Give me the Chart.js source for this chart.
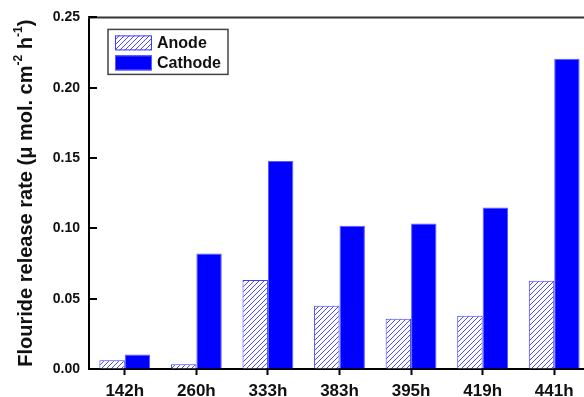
<!DOCTYPE html>
<html>
<head>
<meta charset="utf-8">
<script src="https://cdn.jsdelivr.net/npm/chart.js@4/dist/chart.umd.min.js"></script>
<style>
  html, body { margin: 0; padding: 0; background: #fff; overflow: hidden; width: 584px; height: 397px; }
  canvas { display: block; }
</style>
</head>
<body>
<canvas id="c" width="600" height="397"></canvas>
<script>
// Fluoride release rate per ageing time, anode vs cathode
const hours = ['142h', '260h', '333h', '383h', '395h', '419h', '441h'];
const anodeRate = [0.0063, 0.0033, 0.0632, 0.0449, 0.0357, 0.0378, 0.0627];
const cathodeRate = [0.0103, 0.0822, 0.1479, 0.1019, 0.1035, 0.1148, 0.2206];
const yTicks = [0, 0.05, 0.10, 0.15, 0.20, 0.25];
const seriesNames = ['Anode', 'Cathode'];

const FONT = '"Liberation Sans", Arial, Helvetica, sans-serif';
const BLUE = '#0000ff';

// diagonal "/" hatch used for the anode bars
function makeHatch() {
  const s = 5;
  const t = document.createElement('canvas');
  t.width = s; t.height = s;
  const g = t.getContext('2d');
  g.fillStyle = '#ffffff';
  g.fillRect(0, 0, s, s);
  g.strokeStyle = '#4848ff';
  g.lineWidth = 1;
  g.beginPath();
  g.moveTo(-1, s + 1); g.lineTo(s + 1, -1);
  g.moveTo(-1, 1); g.lineTo(1, -1);
  g.moveTo(s - 1, s + 1); g.lineTo(s + 1, s - 1);
  g.stroke();
  return g.createPattern(t, 'repeat');
}
const ctx0 = document.getElementById('c').getContext('2d');
const hatch = makeHatch();

// frame, inward y ticks, rotated axis title with superscripts, boxed legend
const decorations = {
  id: 'decorations',
  afterDraw(chart) {
    const { ctx, chartArea: a, scales } = chart;
    ctx.save();

    // top and right frame lines
    ctx.strokeStyle = '#333';
    ctx.lineWidth = 2;
    ctx.beginPath();
    ctx.moveTo(a.left - 1, a.top);
    ctx.lineTo(a.right, a.top);
    ctx.lineTo(a.right, a.bottom);
    ctx.stroke();

    // y ticks pointing into the plot
    ctx.strokeStyle = '#000';
    ctx.lineWidth = 2;
    ctx.beginPath();
    yTicks.forEach(v => {
      const y = Math.round(scales.y.getPixelForValue(v));
      ctx.moveTo(a.left, y);
      ctx.lineTo(a.left + 8, y);
    });
    ctx.stroke();

    // y axis title
    ctx.save();
    ctx.translate(26, (a.top + a.bottom) / 2);
    ctx.rotate(-Math.PI / 2);
    ctx.fillStyle = '#111';
    ctx.textBaseline = 'middle';
    const big = 'bold 20px ' + FONT, small = 'bold 12px ' + FONT;
    const parts = [
      ['Flouride release rate (\u03bc mol. cm', big, 0],
      ['-2', small, -7],
      [' h', big, 0],
      ['-1', small, -7],
      [')', big, 0]
    ];
    let total = 0;
    parts.forEach(p => { ctx.font = p[1]; total += ctx.measureText(p[0]).width; });
    let x = -total / 2;
    parts.forEach(p => {
      ctx.font = p[1];
      ctx.fillText(p[0], x, p[2]);
      x += ctx.measureText(p[0]).width;
    });
    ctx.restore();

    // legend box
    const lx = a.left + 19, ly = a.top + 12, lw = 120, lh = 45;
    ctx.fillStyle = '#fff';
    ctx.fillRect(lx, ly, lw, lh);
    ctx.strokeStyle = '#444';
    ctx.lineWidth = 1.5;
    ctx.strokeRect(lx, ly, lw, lh);
    const ds = chart.data.datasets;
    ds.forEach((d, i) => {
      const sy = ly + 6 + i * 20;
      ctx.fillStyle = d.backgroundColor;
      ctx.fillRect(lx + 7, sy, 37, 15);
      ctx.strokeStyle = d.borderColor;
      ctx.lineWidth = 1;
      ctx.strokeRect(lx + 7.5, sy + 0.5, 36, 14);
      ctx.fillStyle = '#111';
      ctx.font = 'bold 16px ' + FONT;
      ctx.textBaseline = 'middle';
      ctx.fillText(d.label, lx + 49, sy + 8);
    });

    ctx.restore();
  }
};

new Chart(ctx0, {
  type: 'bar',
  data: {
    labels: hours,
    datasets: [
      {
        label: seriesNames[0],
        data: anodeRate,
        backgroundColor: hatch,
        borderColor: '#3a3aff',
        borderWidth: 1
      },
      {
        label: seriesNames[1],
        data: cathodeRate,
        backgroundColor: BLUE,
        borderColor: '#5a5aff',
        borderWidth: 1
      }
    ]
  },
  options: {
    responsive: false,
    animation: false,
    layout: { padding: { left: 0, right: 10, top: 14, bottom: 0 } },
    datasets: { bar: { categoryPercentage: 0.71, barPercentage: 1.0 } },
    plugins: { legend: { display: false }, tooltip: { enabled: false } },
    scales: {
      x: {
        offset: true,
        grid: {
          offset: false,
          drawOnChartArea: false,
          drawTicks: true,
          tickLength: 6,
          tickWidth: 2,
          tickColor: '#000'
        },
        border: { display: true, color: '#000', width: 2 },
        ticks: {
          color: '#111',
          padding: 6,
          font: { family: FONT, size: 17, weight: 'bold' },
          maxRotation: 0
        },
        afterFit(s) { s.height = 28; }
      },
      y: {
        min: 0,
        max: 0.25,
        afterBuildTicks(s) { s.ticks = yTicks.map(v => ({ value: v })); },
        grid: { drawOnChartArea: false, drawTicks: false },
        border: { display: true, color: '#000', width: 2 },
        ticks: {
          color: '#111',
          padding: 9,
          font: { family: FONT, size: 14, weight: 'bold' },
          callback: v => Number(v).toFixed(2)
        },
        afterFit(s) { s.width = 89; }
      }
    }
  },
  plugins: [decorations]
});
</script>
</body>
</html>
